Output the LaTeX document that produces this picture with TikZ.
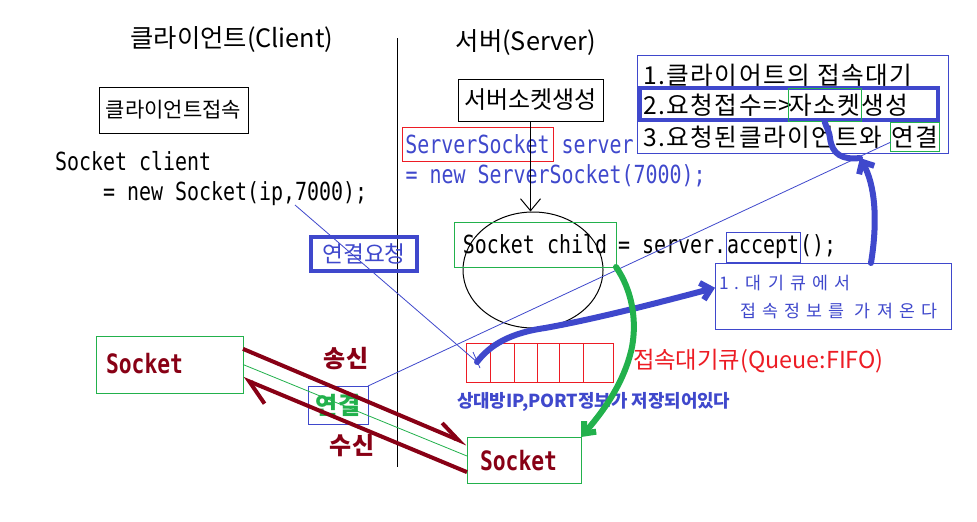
\documentclass[tikz,border=0pt]{standalone}
\usepackage{fontspec}
\setmainfont{Noto Sans CJK KR}
\newfontfamily\codefont[FakeStretch=0.8]{DejaVu Sans Mono}
\usetikzlibrary{arrows.meta,shapes.geometric}
\definecolor{pblue}{RGB}{63,72,204}
\definecolor{pred}{RGB}{237,28,36}
\definecolor{pgreen}{RGB}{34,177,76}
\definecolor{pdark}{RGB}{136,0,21}
\tikzset{
  txt/.style={inner sep=0pt, outer sep=0pt},
  kr/.style={txt, font=\fontsize{#1}{#1}\selectfont},
  krs/.style={txt, font=\fontsize{#1}{#1}\selectfont\addfontfeatures{LetterSpace=6}},
  krb/.style={txt, font=\fontsize{#1}{#1}\selectfont\bfseries},
  code/.style={txt, font=\codefont\fontsize{18.7}{20}\selectfont},
  sock/.style={txt, text=pdark, font=\codefont\bfseries\fontsize{20}{20}\selectfont},
  spaced/.style={txt, text=pblue, font=\fontsize{13}{14}\selectfont\addfontfeatures{LetterSpace=36}},
  box/.style={draw, inner sep=0pt, outer sep=0pt, line width=0.75pt},
  thinblue/.style={draw=pblue, line width=0.6pt},
  redarrow/.style={draw=pdark, line width=3pt},
  freehand/.style={line width=4.5pt, line cap=round, line join=round},
}
\begin{document}
\begin{tikzpicture}[x=0.75pt,y=-0.75pt]
\path[fill=white] (0,0) rectangle (977,521);
\useasboundingbox (0,0) rectangle (977,521);

% titles and separator
\node[kr=19] (tcl) at (232,40) {클라이언트(Client)};
\node[kr=19] (tsv) at (526,43) {서버(Server)};
\coordinate (vtop) at (397,38);
\coordinate (vbot) at (397,467);
\draw[line width=0.75pt] (vtop) -- (vbot);

% client side
\node[box, kr=15.75, minimum width=111.75pt, minimum height=34.5pt] (cbox) at (173.5,110) {클라이언트접속};
\node[code, anchor=base west] (cl1) at (55,170) {Socket client};
\node[code, anchor=base west] (cl2) at (103,200) {= new Socket(ip,7000);};

% server side
\node[box, kr=18, minimum width=108.75pt, minimum height=31.5pt] (sbox) at (530.5,100) {서버소켓생성};
\node[box, draw=pred, code, text=pblue, minimum width=113.25pt, minimum height=25.5pt] (ssbox) at (477.5,144) {ServerSocket};
\node[code, text=pblue, anchor=base west, xshift=6.4pt] (ss2) at (ssbox.base east) {server};
\node[code, text=pblue, anchor=base west] (ss3) at (405.5,183) {= new ServerSocket(7000);};

\node[draw, ellipse, minimum width=105pt, minimum height=87pt, inner sep=0pt, line width=0.75pt] (circ) at (533,270) {};
\draw[line width=0.75pt, -{Straight Barb[length=9pt,width=15pt]}] (sbox.south) -- (sbox.south |- circ.north);

\node[box, draw=pgreen, code, minimum width=121.5pt, minimum height=33.75pt] (scbox) at (535,244.5) {Socket child};
\node[code, anchor=base west, xshift=1.5pt] (sc2) at (scbox.base east) {= server.};
\node[box, draw=pblue, code, anchor=base west, inner xsep=0.75pt, minimum height=22.5pt] (acc) at (sc2.base east) {accept};
\node[code, anchor=base west] (sc4) at (acc.base east) {();};

\node[box, draw=pblue, line width=3pt, kr=17, text=pblue, minimum width=79.5pt, minimum height=25.5pt] (req) at (364,254) {연결요청};

% queue
\node[box, draw=pred, minimum width=110.25pt, minimum height=29.25pt] (queue) at (539.5,362.5) {};
\foreach \x in {490,514,537,559,583} \draw[pred, line width=0.75pt] (\x,0 |- queue.north) -- (\x,0 |- queue.south);
\node[kr=17.5, text=pred, anchor=west] (qlab) at (633,361) {접속대기큐(Queue:FIFO)};
\node[krb=13.4, text=pblue, anchor=west] (qinfo) at (457,402) {상대방IP,PORT정보가 저장되어있다};

\node[box, draw=pblue, minimum width=177pt, minimum height=49.5pt] (qbox) at (833,296) {};
\node[spaced, anchor=west] (q1) at (719,283) {1.대기큐에서};
\node[spaced, anchor=west] (q2) at (740,311) {접속정보를 가져온다};

% sockets
\node[box, draw=pgreen, minimum width=110.25pt, minimum height=42.75pt] (lsock) at (169.5,364.5) {};
\node[sock, anchor=base west] (lsockt) at (106,373) {Socket};
\node[box, draw=pgreen, minimum width=85.5pt, minimum height=34.5pt] (rsock) at (524,460) {};
\node[sock, anchor=base west] (rsockt) at (480,470) {Socket};

\node[krb=18, text=pdark] (send) at (346,359) {송신};
\node[krb=18, text=pdark] (recv) at (352,446) {수신};
\node[box, draw=pblue, krb=18, text=pgreen, minimum width=45pt, minimum height=28.5pt] (conn) at (338,405) {연결};

\draw[pgreen, line width=0.6pt] (lsock.east) -- (rsock.176);
\draw[redarrow, -{Straight Barb[harpoon,length=16pt,width=14pt]}] (lsock.12.7) -- (rsock.164.3);
\draw[redarrow, -{Straight Barb[harpoon,length=17pt,width=22pt]}] (rsock.192.8) -- (lsock.-11.2);

% top right box
\node[box, draw=pblue, minimum width=233.25pt, minimum height=73.5pt] (tbox) at (792.5,104) {};
\node[krs=18.5, anchor=west] (t1) at (643,75) {1.클라이어트의 접속대기};
\node[box, draw=pblue, line width=3pt, minimum width=223.5pt, minimum height=24pt] (t2box) at (789,104) {};
\node[krs=18.5, anchor=west] (t2a) at (643,105) {2.요청접수=>};
\node[box, draw=pgreen, krs=18.5, anchor=west, inner xsep=0.75pt, minimum height=24.75pt, xshift=-3pt] (jasock) at (t2a.east) {자소켓};
\node[krs=18.5, anchor=west] (t2c) at (jasock.east) {생성};
\node[krs=18.5, anchor=west] (t3a) at (643,137) {3.요청된클라이언트와};
\node[box, draw=pgreen, krs=18.5, anchor=west, inner xsep=0.75pt, minimum height=21.75pt, xshift=6pt] (ygbox) at (t3a.east) {연결};

% thin blue connectors
\coordinate (c7000) at (295,205);
\coordinate (qin) at (477,362);
\coordinate (tk1) at (473,352);
\coordinate (tk2) at (480,368);
\draw[thinblue] (c7000) -- (qin);
\draw[thinblue] (tk1) -- (tk2);
\draw[thinblue] (conn.north east) -- (ygbox.192.9);

% freehand strokes
\draw[freehand, pblue, -{Straight Barb[length=7pt,width=13pt]}] (qin) .. controls (490,345) and (510,333) .. (545,328) .. controls (590,320) and (650,305) .. (qbox.176);
\coordinate (bmid) at (860,158);
\draw[freehand, pblue, -{Straight Barb[length=7pt,width=13pt]}] (qbox.41.7) .. controls (878,220) and (875,185) .. (bmid);
\draw[freehand, pblue] (bmid) .. controls (843,160) and (832,155) .. (830,138) .. controls (829,130) and (826,127) .. (jasock.south);
\draw[freehand, pgreen, -{Straight Barb[length=7pt,width=12pt]}] (scbox.south east) .. controls (632,290) and (637,320) .. (632,347) .. controls (624,385) and (600,415) .. (rsock.north east);
\end{tikzpicture}
\end{document}
